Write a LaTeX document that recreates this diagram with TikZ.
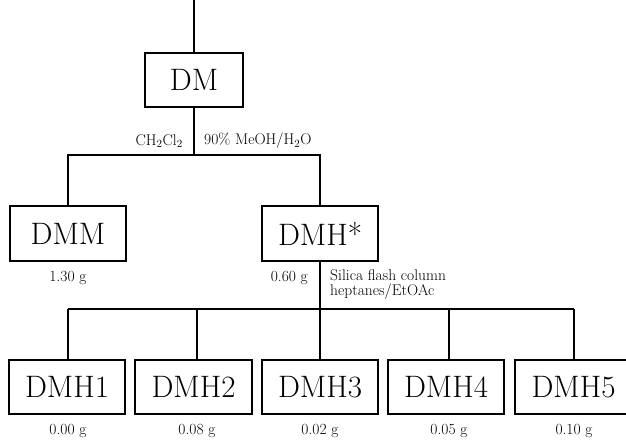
\documentclass[tikz,border=0pt]{standalone}
\begin{document}
\begin{tikzpicture}[x=1pt,y=-1pt,
  box/.style={draw, line width=1.8pt, inner sep=0pt, minimum width=116.5pt, minimum height=54.5pt, font=\fontsize{31}{33}\selectfont},
  lbl/.style={font=\fontsize{15.5}{15}\selectfont, inner sep=0pt},
  conn/.style={line width=1.8pt}]
\useasboundingbox (0,0) rectangle (626,441);
\clip (0,0) rectangle (626,441);
% boxes
\node[box, minimum width=98.5pt] (DM) at (194,80) {DM};
\node[box] (DMM) at (68,233.5) {DMM};
\node[box] (DMHs) at (320,233.5) {DMH*};
\node[box] (DMH1) at (67,387) {DMH1};
\node[box] (DMH2) at (193.5,387) {DMH2};
\node[box] (DMH3) at (320,387) {DMH3};
\node[box] (DMH4) at (446,387) {DMH4};
\node[box] (DMH5) at (573.5,387) {DMH5};
% junctions
\coordinate (top) at (194,-2);
\coordinate (s1) at (194,155);
\coordinate (s2) at (320,309);
\coordinate (j1) at (68,309);
\coordinate (j2) at (197,309);
\coordinate (j4) at (449,309);
\coordinate (j5) at (574,309);
% connectors
\draw[conn] (top) -- (DM.north);
\draw[conn] (DM.south) -- (s1);
\draw[conn] (DMM.north) |- (s1) -| (DMHs.north);
\draw[conn] (DMHs.south) -- (s2);
\draw[conn] (j1) -- (j5);
\draw[conn] (j1) -- (j1 |- DMH1.north);
\draw[conn] (j2) -- (j2 |- DMH2.north);
\draw[conn] (s2) -- (s2 |- DMH3.north);
\draw[conn] (j4) -- (j4 |- DMH4.north);
\draw[conn] (j5) -- (j5 |- DMH5.north);
% labels
\node[lbl, anchor=east] (l1) at (183,141) {CH$_2$Cl$_2$};
\node[lbl, anchor=west] (l2) at (204,141) {90\% MeOH/H$_2$O};
\node[lbl] (w0) at (68,278) {1.30 g};
\node[lbl, anchor=east] (w1) at (308,278) {0.60 g};
\node[lbl, anchor=west, align=left] (w2) at (330,284) {Silica flash column\\heptanes/EtOAc};
\node[lbl] (v1) at (68,431) {0.00 g};
\node[lbl] (v2) at (197,431) {0.08 g};
\node[lbl] (v3) at (320,431) {0.02 g};
\node[lbl] (v4) at (449,431) {0.05 g};
\node[lbl] (v5) at (574,431) {0.10 g};
\end{tikzpicture}
\end{document}
